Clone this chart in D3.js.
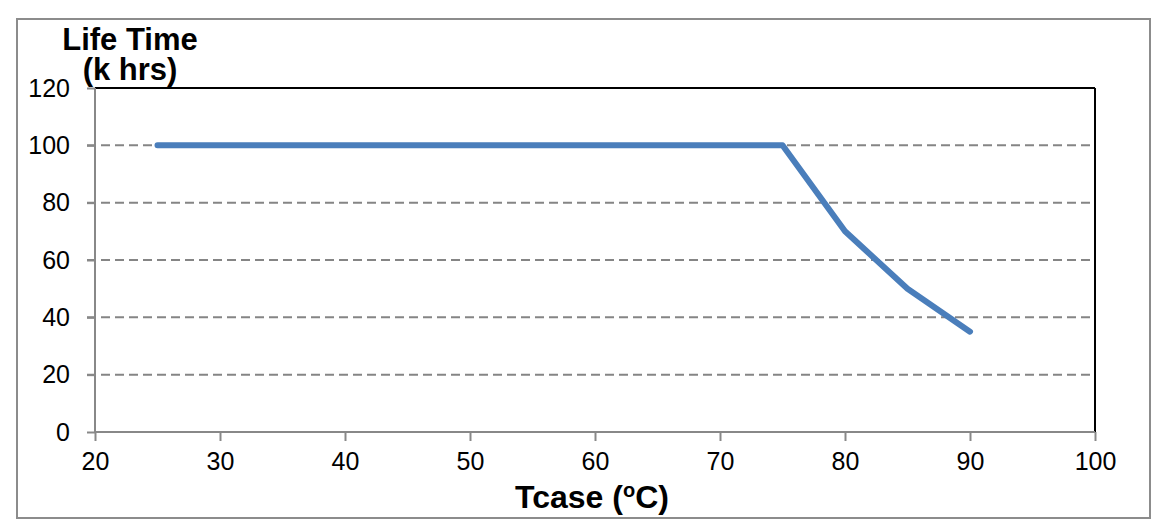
<!DOCTYPE html>
<html><head><meta charset="utf-8">
<script src="https://cdn.jsdelivr.net/npm/d3@7"></script>
<style>body{margin:0;background:#fff}svg{display:block}text{font-family:"Liberation Sans",Arial,sans-serif}</style>
</head><body>
<script>
const tcase = [25, 75, 80, 85, 90];
const lifeTime = [100, 100, 70, 50, 35];
const xTicks = [20, 30, 40, 50, 60, 70, 80, 90, 100];
const yTicks = [0, 20, 40, 60, 80, 100, 120];

const W = 1161, H = 531;
const m = {left: 95, right: 1095, top: 88, bottom: 432};
const svg = d3.select("body").append("svg").attr("width", W).attr("height", H);

svg.append("rect").attr("x", 17).attr("y", 19).attr("width", 1133).attr("height", 499)
  .attr("fill", "#fff").attr("stroke", "#8c8c8c").attr("stroke-width", 2);

const x = d3.scaleLinear().domain([20, 100]).range([m.left, m.right]);
const y = d3.scaleLinear().domain([0, 120]).range([m.bottom, m.top]);

// gridlines
svg.append("g").selectAll("line").data(yTicks.filter(v => v > 0 && v < 120)).join("line")
  .attr("x1", m.left - 8).attr("x2", m.right).attr("y1", d => y(d)).attr("y2", d => y(d))
  .attr("stroke", "#858585").attr("stroke-width", 2).attr("stroke-dasharray", "9,5");

// frame top/right
svg.append("line").attr("x1", m.left).attr("x2", m.right).attr("y1", m.top).attr("y2", m.top)
  .attr("stroke", "#000").attr("stroke-width", 2);
svg.append("line").attr("x1", m.right).attr("x2", m.right).attr("y1", m.top).attr("y2", m.bottom)
  .attr("stroke", "#000").attr("stroke-width", 2);

// axes
const yAxis = svg.append("g").attr("transform", `translate(${m.left},0)`)
  .call(d3.axisLeft(y).tickValues(yTicks).tickSize(8).tickPadding(17));
const xAxis = svg.append("g").attr("transform", `translate(0,${m.bottom})`)
  .call(d3.axisBottom(x).tickValues(xTicks).tickSize(9).tickPadding(11));
[yAxis, xAxis].forEach(a => {
  a.select(".domain").attr("stroke", "#888").attr("stroke-width", 2);
  a.selectAll(".tick line").attr("stroke", "#888").attr("stroke-width", 2);
  a.selectAll(".tick text").attr("font-size", 25).attr("fill", "#000")
    .attr("font-family", '"Liberation Sans",Arial,sans-serif');
});
xAxis.select(".domain").attr("d", `M${m.left},0H${m.right}`);
yAxis.select(".domain").attr("d", `M0,${m.top}V${m.bottom}`);

// line
svg.append("path").datum(tcase.map((t, i) => [t, lifeTime[i]]))
  .attr("fill", "none").attr("stroke", "#4a7ebb").attr("stroke-width", 6)
  .attr("stroke-linejoin", "round").attr("stroke-linecap", "round")
  .attr("d", d3.line().x(d => x(d[0])).y(d => y(d[1])));

// titles
svg.append("text").attr("x", 130).attr("y", 50).attr("text-anchor", "middle")
  .attr("font-size", 31).attr("font-weight", "bold").text("Life Time");
svg.append("text").attr("x", 130).attr("y", 80).attr("text-anchor", "middle")
  .attr("font-size", 31).attr("font-weight", "bold").text("(k hrs)");
const xt = svg.append("text").attr("x", 592).attr("y", 508).attr("text-anchor", "middle")
  .attr("font-size", 32).attr("font-weight", "bold");
xt.append("tspan").text("Tcase (");
xt.append("tspan").attr("font-size", 20).attr("dy", -11).text("o");
xt.append("tspan").attr("dy", 11).text("C)");
</script>
</body></html>
